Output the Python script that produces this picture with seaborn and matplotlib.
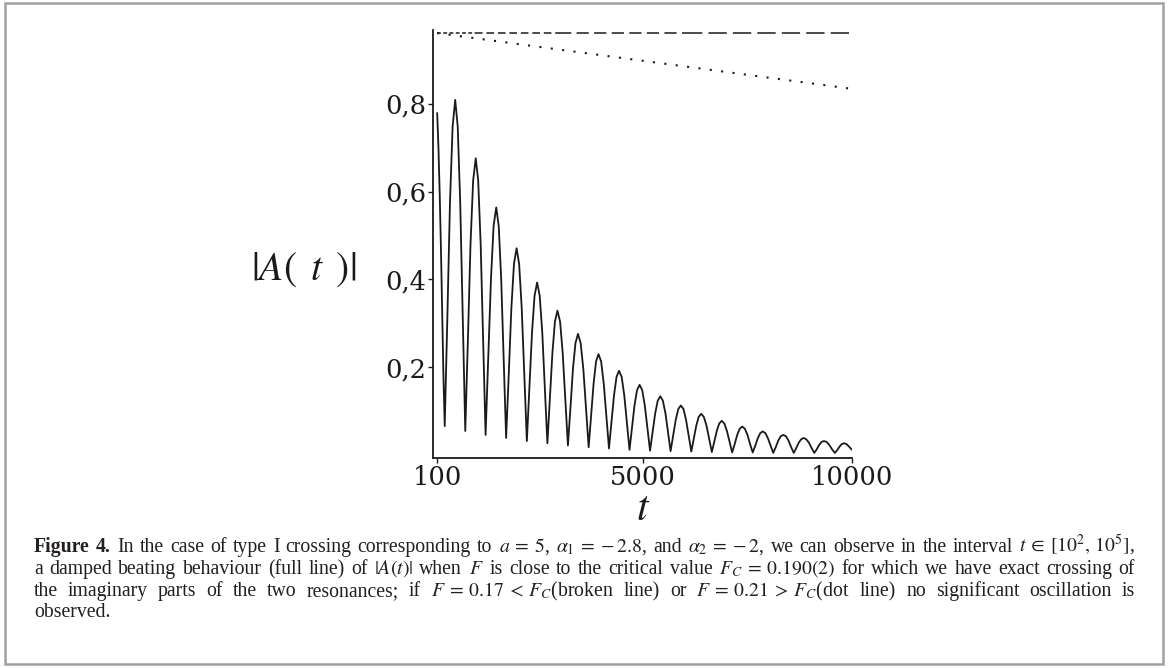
import re
import pandas as pd
import seaborn as sns
import matplotlib.pyplot as plt
from matplotlib.patches import Rectangle

# |A(t)| for F close to F_C (full line):
# for every beat: trough, three rising points, peak, three falling points
t_full = [100, 130, 160, 190, 220, 250,
          280, 343, 405, 468, 530, 590, 650, 710,
          770, 833, 895, 958, 1020, 1079, 1138, 1196,
          1255, 1319, 1383, 1446, 1510, 1569, 1628, 1686,
          1745, 1808, 1870, 1933, 1995, 2056, 2118, 2179,
          2240, 2301, 2363, 2424, 2485, 2546, 2608, 2669,
          2730, 2790, 2850, 2910, 2970, 3033, 3095, 3158,
          3220, 3280, 3340, 3400, 3460, 3524, 3588, 3651,
          3715, 3774, 3833, 3891, 3950, 4013, 4075, 4138,
          4200, 4260, 4320, 4380, 4440, 4503, 4565, 4628,
          4690, 4750, 4810, 4870, 4930, 4993, 5055, 5118,
          5180, 5241, 5303, 5364, 5425, 5486, 5548, 5609,
          5670, 5731, 5793, 5854, 5915, 5978, 6040, 6103,
          6165, 6224, 6283, 6341, 6400, 6464, 6528, 6591,
          6655, 6714, 6773, 6831, 6890, 6953, 7015, 7078,
          7140, 7200, 7260, 7320, 7380, 7443, 7505, 7568,
          7630, 7690, 7750, 7810, 7870, 7933, 7995, 8058,
          8120, 8180, 8240, 8300, 8360, 8423, 8485, 8548,
          8610, 8669, 8728, 8786, 8845, 8909, 8973, 9036,
          9100, 9158, 9215, 9273, 9330, 9395, 9460, 9525,
          9590, 9645, 9700, 9755, 9810, 9871, 9933, 10000]
a_full = [0.779, 0.700, 0.595, 0.468, 0.325, 0.175,
          0.066, 0.315, 0.574, 0.748, 0.809, 0.748, 0.573, 0.313,
          0.055, 0.263, 0.480, 0.625, 0.676, 0.625, 0.479, 0.262,
          0.046, 0.220, 0.400, 0.522, 0.564, 0.521, 0.400, 0.219,
          0.039, 0.184, 0.334, 0.436, 0.471, 0.435, 0.334, 0.182,
          0.032, 0.153, 0.279, 0.363, 0.393, 0.363, 0.279, 0.152,
          0.027, 0.128, 0.233, 0.304, 0.329, 0.304, 0.233, 0.127,
          0.022, 0.107, 0.196, 0.255, 0.276, 0.255, 0.196, 0.107,
          0.018, 0.089, 0.163, 0.213, 0.230, 0.213, 0.163, 0.089,
          0.015, 0.075, 0.136, 0.178, 0.192, 0.178, 0.136, 0.074,
          0.012, 0.062, 0.114, 0.148, 0.160, 0.148, 0.113, 0.062,
          0.010, 0.052, 0.095, 0.124, 0.134, 0.124, 0.095, 0.052,
          0.009, 0.044, 0.080, 0.105, 0.113, 0.105, 0.080, 0.044,
          0.008, 0.037, 0.067, 0.087, 0.094, 0.087, 0.067, 0.037,
          0.007, 0.031, 0.055, 0.072, 0.078, 0.072, 0.055, 0.030,
          0.006, 0.025, 0.046, 0.060, 0.065, 0.060, 0.046, 0.025,
          0.006, 0.021, 0.038, 0.050, 0.054, 0.050, 0.038, 0.021,
          0.005, 0.018, 0.033, 0.043, 0.046, 0.043, 0.033, 0.018,
          0.005, 0.016, 0.028, 0.036, 0.039, 0.036, 0.028, 0.016,
          0.005, 0.013, 0.023, 0.030, 0.032, 0.030, 0.023, 0.013,
          0.005, 0.011, 0.019, 0.025, 0.027, 0.025, 0.019, 0.012]

# F = 0.17 < F_C (broken line); the dashes get longer to the right
t_broken = [100, 1000, 3000, 6000, 10000]
a_broken = [0.962, 0.962, 0.962, 0.962, 0.962]
broken_dashes = [(2.5, 1.6), (5, 2.5), (8, 3.5), (12, 4)]

# F = 0.21 > F_C (dot line)
t_dot = [100, 2500, 5000, 7500, 10000]
a_dot = [0.961, 0.930, 0.898, 0.866, 0.834]

x_ticks = [100, 5000, 10000]
y_ticks = [0.2, 0.4, 0.6, 0.8]
y_ticklabels = ['0,2', '0,4', '0,6', '0,8']

caption = [
    r"In the case of type I crossing corresponding to $a\:=\:5$, $\alpha_1\:=\:-\:2.8$, and $\alpha_2\:=\:-\:2$, we can observe in the interval $t\:\in\:[10^2,\,10^5]$,",
    r"a damped beating behaviour (full line) of $|A(t)|$ when $F$ is close to the critical value $F_C\:=\:0.190(2)$ for which we have exact crossing of",
    r"the imaginary parts of the two resonances; if $F\:=\:0.17\:<\:F_C$(broken line) or $F\:=\:0.21\:>\:F_C$(dot line) no significant oscillation is",
    "observed.",
]

sns.set_style('ticks')
plt.rcParams['mathtext.fontset'] = 'stix'
plt.rcParams['font.family'] = ['DejaVu Serif']

W, H = 1168, 668
fig = plt.figure(figsize=(W / 100, H / 100), dpi=100)
ax = fig.add_axes([433 / W, (H - 458) / H, (852 - 433) / W, (458 - 30) / H])

ink = '#1a1a1a'
df_full = pd.DataFrame({'t': t_full, 'A': a_full})
df_broken = pd.DataFrame({'t': t_broken, 'A': a_broken})
df_dot = pd.DataFrame({'t': t_dot, 'A': a_dot})

sns.lineplot(data=df_full, x='t', y='A', ax=ax, color=ink, lw=1.3, estimator=None)
for i, dash in enumerate(broken_dashes):
    sns.lineplot(data=df_broken.iloc[i:i + 2], x='t', y='A', ax=ax, color=ink,
                 lw=1.1, estimator=None, linestyle=(0, dash))
sns.lineplot(data=df_dot, x='t', y='A', ax=ax, color=ink, lw=1.5,
             estimator=None, linestyle=(0, (1, 4.5)))

ax.set_xlim(0, 10000)
ax.set_ylim(-0.0066, 0.968)
ax.set_xticks(x_ticks, labels=[str(v) for v in x_ticks])
ax.set_yticks(y_ticks, labels=y_ticklabels)
ax.set_xlabel('')
ax.set_ylabel('')
ax.tick_params(axis='both', length=3.5, width=1, color=ink, labelsize=18.5,
               labelcolor=ink, pad=1.5)
sns.despine(ax=ax)
for side in ['left', 'bottom']:
    ax.spines[side].set_linewidth(1.3)
    ax.spines[side].set_color(ink)

fig.text(304 / W, 1 - 270 / H, r'$|A(\ \,t\ \,)|$', fontsize=28.5, ha='center',
         va='center', color=ink)
fig.text(643 / W, 1 - 508 / H, r'$t$', fontsize=30, ha='center',
         va='center', color=ink)

# caption, justified between two margins
renderer = fig.canvas.get_renderer()
cap_left, cap_right = 34, 1135
baselines = [552, 574, 596, 617]


def put_line(tokens, y, justify):
    items = []
    for s, weight in tokens:
        txt = fig.text(0, 1 - y / H, s, fontsize=14.2, fontweight=weight,
                       family='Liberation Serif', va='baseline', color='#231f20')
        items.append((txt, txt.get_window_extent(renderer).width))
    total = sum(w for _, w in items)
    space = (cap_right - cap_left - total) / (len(items) - 1) if justify else 5
    x = cap_left
    for txt, w in items:
        txt.set_x(x / W)
        x += w + space


for i, line in enumerate(caption):
    words = re.findall(r'(?:\$[^$]*\$|[^\s$])+', line)
    tokens = [(w, 'normal') for w in words]
    if i == 0:
        tokens = [('Figure', 'bold'), ('4.', 'bold')] + tokens
    put_line(tokens, baselines[i], i < len(caption) - 1)

fig.patches.append(Rectangle((5 / W, 4 / H), (1163 - 5) / W, (665 - 4) / H,
                             transform=fig.transFigure, fill=False,
                             edgecolor='#a0a0a0', lw=1.8))

fig.savefig('out.png', dpi=100)
